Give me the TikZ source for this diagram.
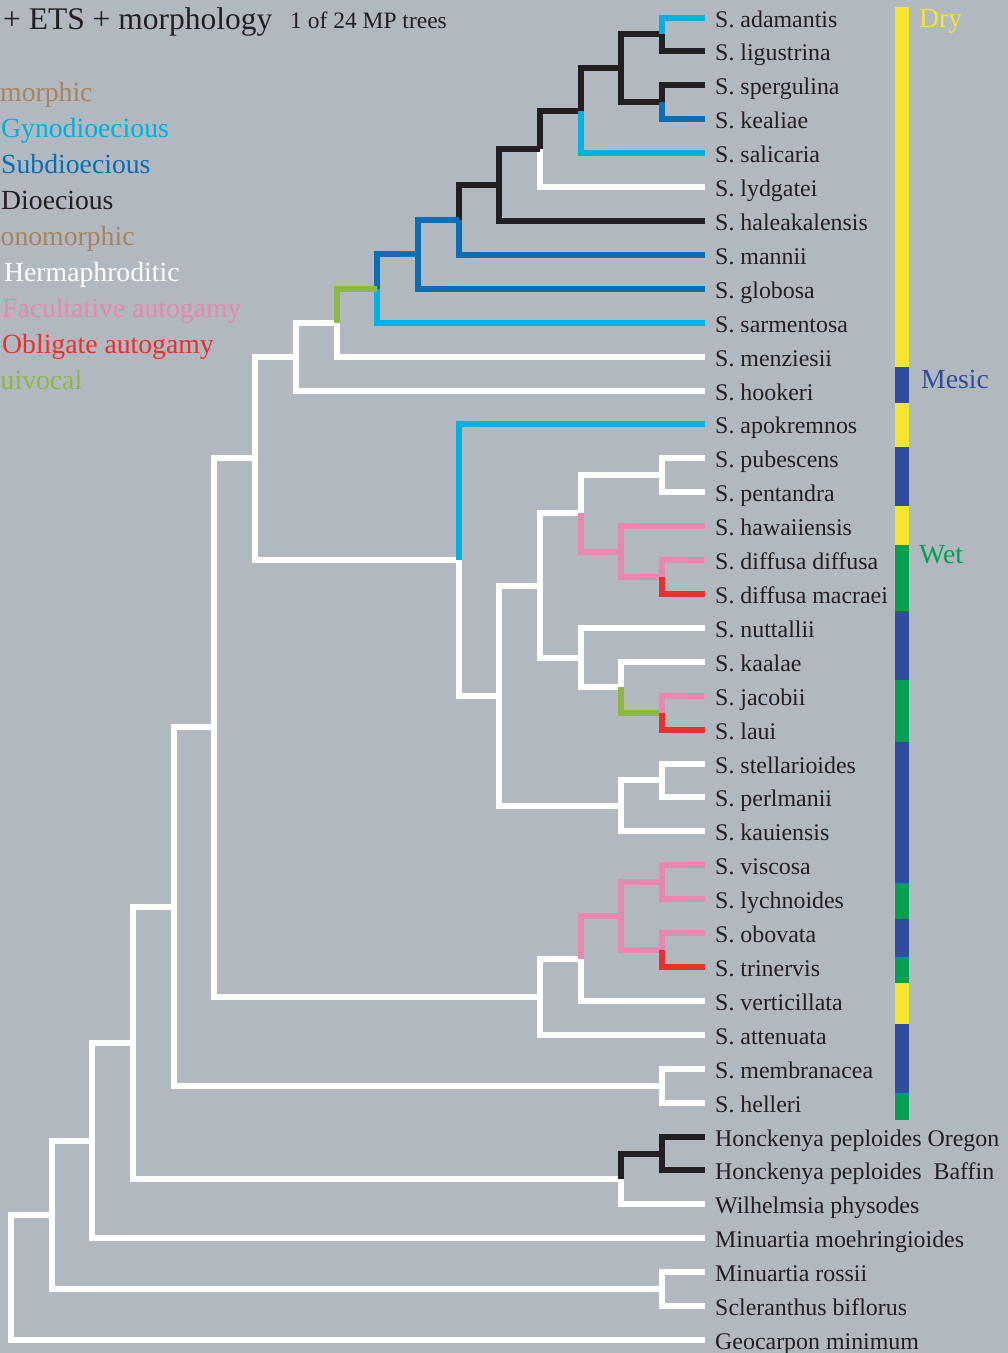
\documentclass[tikz,border=0pt]{standalone}
\usepackage{fontspec}
\setmainfont{Liberation Serif}
\definecolor{bg}{HTML}{B2B8C0}
\definecolor{cGyno}{HTML}{00B0E0}
\definecolor{cSub}{HTML}{0A6EB4}
\definecolor{cDio}{HTML}{231F20}
\definecolor{cFac}{HTML}{E888B0}
\definecolor{cObl}{HTML}{E8302F}
\definecolor{cEqu}{HTML}{8CB843}
\definecolor{cMorph}{HTML}{A8845A}
\definecolor{hDry}{HTML}{F5E52E}
\definecolor{hMes}{HTML}{2E4E9C}
\definecolor{hWet}{HTML}{00A04E}
\begin{document}
\begin{tikzpicture}[x=1pt,y=-1pt,
  br/.style={line width=6pt},
  herm/.style={br,white},
  gyno/.style={br,cGyno},
  subd/.style={br,cSub},
  dioe/.style={br,cDio},
  facu/.style={br,cFac},
  obli/.style={br,cObl},
  equi/.style={br,cEqu},
  lab/.style={anchor=base west, inner sep=0pt, font=\fontsize{23.9}{28}\selectfont, text=cDio, xshift=10pt, yshift=-9.5pt},
  leg/.style={anchor=base west, inner sep=0pt, font=\fontsize{27.7}{32}\selectfont},
]
\useasboundingbox (0,0) rectangle (1008,1353);
\clip (0,0) rectangle (1008,1353);
\fill[bg] (0,0) rectangle (1008,1353);

% title and legend
\node[leg, text=cDio, font=\fontsize{31.5}{36}\selectfont] (title) at (3,29) {+ ETS + morphology};
\node[leg, text=cDio, font=\fontsize{23.5}{28}\selectfont] (subt) at (290,28.5) {1 of 24 MP trees};
\node[leg, text=cMorph] (lg1) at (0,101.5) {morphic};
\node[leg, text=cGyno] (lg2) at (1,137.5) {Gynodioecious};
\node[leg, text=cSub] (lg3) at (1,173.5) {Subdioecious};
\node[leg, text=cDio] (lg4) at (1,209.5) {Dioecious};
\node[leg, text=cMorph] (lg5) at (0.5,245.5) {onomorphic};
\node[leg, text=white] (lg6) at (4,281.5) {Hermaphroditic};
\node[leg, text=cFac] (lg7) at (2,317.5) {Facultative autogamy};
\node[leg, text=cObl] (lg8) at (2,353.5) {Obligate autogamy};
\node[leg, text=cEqu] (lg9) at (0.5,389.5) {uivocal};

% habitat bar
\fill[hDry] (895,7) rectangle (909,367);
\fill[hMes] (895,367) rectangle (909,403);
\fill[hDry] (895,403) rectangle (909,447);
\fill[hMes] (895,447) rectangle (909,506);
\fill[hDry] (895,506) rectangle (909,545);
\fill[hWet] (895,545) rectangle (909,611);
\fill[hMes] (895,611) rectangle (909,680);
\fill[hWet] (895,680) rectangle (909,742);
\fill[hMes] (895,742) rectangle (909,883);
\fill[hWet] (895,883) rectangle (909,919);
\fill[hMes] (895,919) rectangle (909,957);
\fill[hWet] (895,957) rectangle (909,983);
\fill[hDry] (895,983) rectangle (909,1024);
\fill[hMes] (895,1024) rectangle (909,1093);
\fill[hWet] (895,1093) rectangle (909,1120);
\node[leg, text=hDry] (hdry) at (919,27) {Dry};
\node[leg, text=hMes] (hmes) at (921,388) {Mesic};
\node[leg, text=hWet] (hwet) at (919,563) {Wet};

\begin{scope}[shift={(11,17.5)}, x=40.69pt, y=-33.91pt]
\foreach \i/\t in {0/{S. adamantis},1/{S. ligustrina},2/{S. spergulina},3/{S. kealiae},
  4/{S. salicaria},5/{S. lydgatei},6/{S. haleakalensis},7/{S. mannii},8/{S. globosa},
  9/{S. sarmentosa},10/{S. menziesii},11/{S. hookeri},12/{S. apokremnos},13/{S. pubescens},
  14/{S. pentandra},15/{S. hawaiiensis},16/{S. diffusa diffusa},17/{S. diffusa macraei},
  18/{S. nuttallii},19/{S. kaalae},20/{S. jacobii},21/{S. laui},22/{S. stellarioides},
  23/{S. perlmanii},24/{S. kauiensis},25/{S. viscosa},26/{S. lychnoides},27/{S. obovata},
  28/{S. trinervis},29/{S. verticillata},30/{S. attenuata},31/{S. membranacea},32/{S. helleri},
  33/{Honckenya peploides Oregon},34/{Honckenya peploides\ \ Baffin},35/{Wilhelmsia physodes},
  36/{Minuartia moehringioides},37/{Minuartia rossii},38/{Scleranthus biflorus},39/{Geocarpon minimum}}
{
  \coordinate (e\i) at (17.056,\i);
  \node[lab] (t\i) at (e\i) {\t};
}
% internal nodes
\coordinate (nA) at (16,0.5);
\coordinate (nB) at (16,2.5);
\coordinate (nC) at (15,1.5);
\coordinate (nD) at (14,2.75);
\coordinate (nE) at (13,3.875);
\coordinate (nF) at (12,4.9375);
\coordinate (nG) at (11,5.96875);
\coordinate (nH) at (10,6.984375);
\coordinate (nI) at (9,7.9921875);
\coordinate (nJ) at (8,8.99609375);
\coordinate (nK) at (7,9.998046875);
\coordinate (nP) at (16,13.5);
\coordinate (nQ) at (16,16.5);
\coordinate (nR) at (15,15.75);
\coordinate (nS) at (14,14.625);
\coordinate (nT) at (16,20.5);
\coordinate (nU) at (15,19.75);
\coordinate (nV) at (14,18.875);
\coordinate (nW) at (13,16.75);
\coordinate (nX) at (16,22.5);
\coordinate (nY) at (15,23.25);
\coordinate (nZ) at (12,20);
\coordinate (nAp) at (11,16);
\coordinate (n2) at (6,12.999);
\coordinate (nVL) at (16,25.5);
\coordinate (nOT) at (16,27.5);
\coordinate (nPk) at (15,26.5);
\coordinate (nVe) at (14,27.75);
\coordinate (nAt) at (13,28.875);
\coordinate (n3) at (5,20.937);
\coordinate (nMH) at (16,31.5);
\coordinate (n4) at (4,26.2185);
\coordinate (nHo) at (16,33.5);
\coordinate (nHW) at (15,34.25);
\coordinate (n5) at (3,30.2343);
\coordinate (n6) at (2,33.1171);
\coordinate (nRS) at (16,37.5);
\coordinate (n7) at (1,35.3086);
\coordinate (n8) at (0,37.1543);

% white (hermaphroditic) branches
\draw[herm] (nE) |- (e5);
\draw[herm] (nJ) |- (e10);
\draw[herm] (nK) |- (nJ);
\draw[herm] (nK) |- (e11);
\draw[herm] (n2) |- (nK);
\draw[herm] (n2) |- (nAp);
\draw[herm] (nAp) |- (nZ);
\draw[herm] (nZ) |- (nW);
\draw[herm] (nZ) |- (nY);
\draw[herm] (nW) |- (nS);
\draw[herm] (nW) |- (nV);
\draw[herm] (nS) |- (nP);
\draw[herm] (nP) |- (e13);
\draw[herm] (nP) |- (e14);
\draw[herm] (nV) |- (e18);
\draw[herm] (nV) |- (nU);
\draw[herm] (nU) |- (e19);
\draw[herm] (nY) |- (nX);
\draw[herm] (nY) |- (e24);
\draw[herm] (nX) |- (e22);
\draw[herm] (nX) |- (e23);
\draw[herm] (n3) |- (n2);
\draw[herm] (n3) |- (nAt);
\draw[herm] (nAt) |- (e30);
\draw[herm] (nAt) |- (nVe);
\draw[herm] (nVe) |- (e29);
\draw[herm] (n4) |- (n3);
\draw[herm] (n4) |- (nMH);
\draw[herm] (nMH) |- (e31);
\draw[herm] (nMH) |- (e32);
\draw[herm] (n5) |- (n4);
\draw[herm] (n5) |- (nHW);
\draw[herm] (nHW) |- (e35);
\draw[herm] (n6) |- (n5);
\draw[herm] (n6) |- (e36);
\draw[herm] (n7) |- (n6);
\draw[herm] (n7) |- (nRS);
\draw[herm] (nRS) |- (e37);
\draw[herm] (nRS) |- (e38);
\draw[herm] (n8) |- (n7);
\draw[herm] (n8) |- (e39);

% dioecious
\draw[dioe] (nA) |- (e1);
\draw[dioe] (nB) |- (e2);
\draw[dioe] (nC) |- (nA);
\draw[dioe] (nC) |- (nB);
\draw[dioe] (nD) |- (nC);
\draw[dioe] (nE) |- (nD);
\draw[dioe] (nF) |- (nE);
\draw[dioe] (nF) |- (e6);
\draw[dioe] (nG) |- (nF);
\draw[dioe] (nHW) |- (nHo);
\draw[dioe] (nHo) |- (e33);
\draw[dioe] (nHo) |- (e34);

% gynodioecious
\draw[gyno] (nA) |- (e0);
\draw[gyno] (nD) |- (e4);
\draw[gyno] (nI) |- (e9);
\draw[gyno] (nAp) |- (e12);

% subdioecious
\draw[subd] (nB) |- (e3);
\draw[subd] (nG) |- (e7);
\draw[subd] (nH) |- (nG);
\draw[subd] (nH) |- (e8);
\draw[subd] (nI) |- (nH);

% equivocal
\draw[equi] (nJ) |- (nI);
\draw[equi] (nU) |- (nT);

% facultative autogamy
\draw[facu] (nS) |- (nR);
\draw[facu] (nR) |- (e15);
\draw[facu] (nR) |- (nQ);
\draw[facu] (nQ) |- (e16);
\draw[facu] (nT) |- (e20);
\draw[facu] (nVe) |- (nPk);
\draw[facu] (nPk) |- (nVL);
\draw[facu] (nPk) |- (nOT);
\draw[facu] (nVL) |- (e25);
\draw[facu] (nVL) |- (e26);
\draw[facu] (nOT) |- (e27);

% obligate autogamy
\draw[obli] (nQ) |- (e17);
\draw[obli] (nT) |- (e21);
\draw[obli] (nOT) |- (e28);
\end{scope}
\end{tikzpicture}
\end{document}
